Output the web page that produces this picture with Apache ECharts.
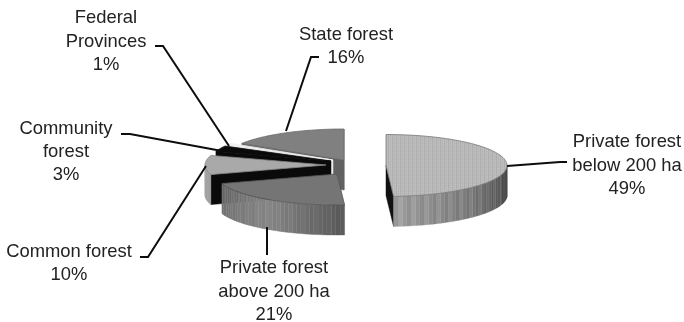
<!DOCTYPE html>
<html>
<head>
<meta charset="utf-8">
<style>html,body{margin:0;padding:0;background:#fff}#chart{width:684px;height:322px}</style>
<script src="https://cdn.jsdelivr.net/npm/echarts@6/dist/echarts.min.js"></script>
</head>
<body>
<div id="chart"></div>
<script>
// Forest ownership shares, clockwise from twelve o'clock
const categories = ['Private forest below 200 ha', 'Private forest above 200 ha', 'Common forest', 'Community forest', 'Federal Provinces', 'State forest'];
const shares = [49, 21, 10, 3, 1, 16];
const labelLines = [
  ['Private forest', 'below 200 ha'],
  ['Private forest', 'above 200 ha'],
  ['Common forest'],
  ['Community', 'forest'],
  ['Federal', 'Provinces'],
  ['State forest']
];

// Projection of the tilted disc
const RX = 121, RY = 31, DEPTH = 30;
const centres = [[386, 165.5], [337, 174], [326, 165], [331, 161], [333, 160], [344, 160]];

// Per-slice tones: top surface, cut face, wall tone from left to centre to right, facet contrast
const tones = [
  { top: 'stipple', face: '#111', wall: [158, 118, 58], edge: '#777', contrast: 10 },
  { top: '#757575', face: '#555', wall: [112, 134, 88], edge: '#555', contrast: 3 },
  { top: '#a9a9a9', face: '#0a0a0a', wall: [168, 158, 150], edge: '#888', contrast: 3 },
  { top: '#0a0a0a', face: '#0a0a0a', wall: [10, 10, 10], edge: '#0a0a0a', contrast: 0 },
  { top: '#f2f2f2', face: '#eee', wall: [235, 235, 235], edge: '#eee', contrast: 0 },
  { top: '#808080', face: '#626262', wall: [90, 90, 90], edge: '#6a6a6a', contrast: 0 }
];

// Leader lines and label anchors for each slice
const leaders = [
  [[507, 166], [560, 162], [567, 162]],
  [[267, 227], [267, 255]],
  [[206, 166], [148, 257], [140, 257]],
  [[222, 151], [130, 134], [121, 134]],
  [[229, 146], [163, 46], [155, 46]],
  [[286, 131], [311, 57], [319, 57]]
];
const labelAnchors = [[627, 165.5], [274, 291.5], [69, 263.5], [66, 152], [106, 41.5], [346, 46.5]];

// Light speckled fill for the largest slice
function stipple() {
  const c = document.createElement('canvas');
  c.width = 4; c.height = 4;
  const g = c.getContext('2d');
  g.fillStyle = '#bdbdbd'; g.fillRect(0, 0, 4, 4);
  g.fillStyle = '#aeaeae'; g.fillRect(0, 0, 1, 4); g.fillRect(2, 1, 1, 1); g.fillRect(2, 3, 1, 1);
  return { image: c, repeat: 'repeat' };
}
const stippleFill = stipple();

const total = shares.reduce((a, b) => a + b, 0);
const rad = d => d * Math.PI / 180;
const startAngles = [];
shares.reduce((acc, v, i) => { startAngles[i] = acc; return acc + v / total * 360; }, 0);

function rim(c, t) {
  return [c[0] + RX * Math.sin(rad(t)), c[1] - RY * Math.cos(rad(t))];
}

function renderSlice(params, api) {
  const i = api.value(0);
  const c = centres[i], tone = tones[i];
  const t0 = startAngles[i], t1 = t0 + shares[i] / total * 360;
  const children = [];
  const down = p => [p[0], p[1] + DEPTH];

  // Cut faces turned toward the viewer
  const face = t => ({
    type: 'polygon',
    shape: { points: [c, rim(c, t), down(rim(c, t)), down(c)] },
    style: { fill: tone.face, stroke: tone.face, lineWidth: 0.5 }
  });
  if (Math.sin(rad(t0)) < 0) children.push(face(t0));
  if (Math.sin(rad(t1)) > 0) children.push(face(t1));

  // Outer wall: narrow vertical facets on the front half of the rim
  const a = Math.max(t0, 90), b = Math.min(t1, 270);
  if (b > a) {
    const n = Math.max(1, Math.round((b - a) / 2.1));
    for (let k = 0; k < n; k++) {
      const u = a + (b - a) * k / n, v = a + (b - a) * (k + 1) / n;
      const f = (k + 0.5) / n;
      const [l, m, r] = tone.wall;
      const base = f < 0.5 ? r + (m - r) * f * 2 : m + (l - m) * (f - 0.5) * 2;
      const g = Math.round(base + (k % 3 === 0 ? tone.contrast : k % 3 === 1 ? -tone.contrast * 0.6 : 0));
      const col = 'rgb(' + g + ',' + g + ',' + g + ')';
      const p = rim(c, u), q = rim(c, v);
      children.push({
        type: 'polygon',
        shape: { points: [p, q, down(q), down(p)] },
        style: { fill: col, stroke: col, lineWidth: 0.4 }
      });
    }
  }

  // Top surface
  const pts = [c];
  for (let t = t0; t < t1; t += 1.5) pts.push(rim(c, t));
  pts.push(rim(c, t1));
  children.push({
    type: 'polygon',
    shape: { points: pts },
    style: { fill: tone.top === 'stipple' ? stippleFill : tone.top, stroke: tone.edge, lineWidth: 0.8 }
  });
  return { type: 'group', children };
}

function renderLabel(params, api) {
  const i = api.value(0);
  const at = labelAnchors[i];
  return {
    type: 'group',
    children: [
      {
        type: 'polyline',
        shape: { points: leaders[i] },
        style: { fill: 'none', stroke: '#0d0d0d', lineWidth: 2 }
      },
      {
        type: 'text',
        style: {
          text: labelLines[i].concat(shares[i] + '%').join('\n'),
          x: at[0], y: at[1],
          align: 'center', verticalAlign: 'middle',
          font: '18.4px "Liberation Sans", Arial, sans-serif',
          lineHeight: 23.3,
          fill: '#222'
        }
      }
    ]
  };
}

const chart = echarts.init(document.getElementById('chart'), null, { renderer: 'canvas' });
chart.setOption({
  animation: false,
  backgroundColor: '#fff',
  series: [
    {
      type: 'custom',
      coordinateSystem: 'none',
      name: 'Forest ownership',
      renderItem: renderSlice,
      // painted back to front
      data: [[5], [4], [3], [2], [1], [0]],
      silent: true
    },
    {
      type: 'custom',
      coordinateSystem: 'none',
      name: 'Labels',
      renderItem: renderLabel,
      data: categories.map((_, i) => [i]),
      silent: true
    }
  ]
});
</script>
</body>
</html>
